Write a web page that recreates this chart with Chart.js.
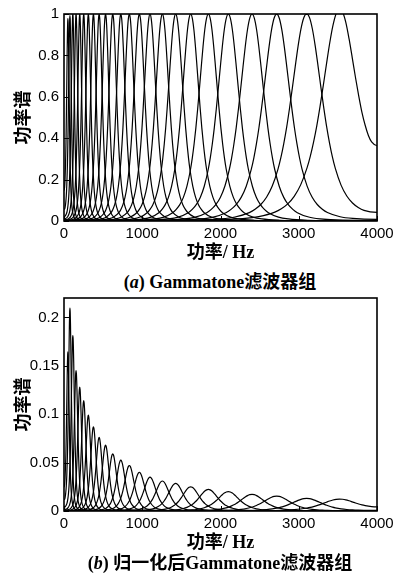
<!DOCTYPE html>
<html>
<head>
<meta charset="utf-8">
<script src="https://cdn.jsdelivr.net/npm/chart.js@4.4.1/dist/chart.umd.min.js"></script>
<style>
body { margin: 0; background: #fff; width: 402px; height: 575px; position: relative; overflow: hidden; }
canvas { position: absolute; left: 0; }
.cap { position: absolute; left: 38px; width: 364px; text-align: center; color: #000; line-height: 20px;
       font: bold 18px "Liberation Serif", "Noto Sans CJK SC", serif; }
</style>
</head>
<body>
<canvas id="chartA" width="402" height="266" style="top:0"></canvas>
<div class="cap" style="top:267px">(<i>a</i>) Gammatone滤波器组</div>
<canvas id="chartB" width="402" height="272" style="top:284px"></canvas>
<div class="cap" style="top:548px">(<i>b</i>) 归一化后Gammatone滤波器组</div>
<script>
//filter centre frequencies (Hz), read from the peak positions
var centerFreqs = [50, 76, 113, 154, 201, 252, 311, 376, 449, 531, 623, 726, 835, 963,
                   1099, 1257, 1427, 1619, 1845, 2100, 2403, 2718, 3101, 3519];
//filter bandwidths (Hz)
var bandwidths = [30.7, 33.5, 37.6, 42.1, 47.3, 52.9, 59.4, 66.5, 74.6, 83.6, 93.7, 105.0, 117.0, 131.1,
                  146.1, 163.4, 182.1, 203.2, 228.1, 256.2, 289.5, 324.1, 366.3, 412.2];
//peak heights, panel (a)
var peaksA = [0.97, 0.99, 1, 1, 1, 1, 1, 1, 1, 1, 1, 1, 1, 1, 1, 1, 1, 1, 1, 1, 1, 1, 1, 1];
//peak heights after normalisation, panel (b)
var peaksB = [0.163, 0.209, 0.181, 0.145, 0.128, 0.114, 0.099, 0.087, 0.076, 0.068, 0.059, 0.0525,
              0.047, 0.040, 0.035, 0.031, 0.0285, 0.025, 0.0223, 0.020, 0.0172, 0.0154, 0.013, 0.012];
//response shape: offset from centre (in bandwidths) -> relative gain
var shapeOffsets = [0, 0.1, 0.2, 0.3, 0.4, 0.5, 0.6, 0.7, 0.8, 0.9, 1.0, 1.2, 1.4, 1.6, 1.8, 2.0, 2.5, 3, 4, 6, 10];
var shapeGains   = [1, 0.980, 0.925, 0.842, 0.743, 0.640, 0.541, 0.450, 0.372, 0.305, 0.250, 0.168,
                    0.114, 0.079, 0.056, 0.040, 0.019, 0.010, 0.0035, 0.0007, 0.0001];
var sampleRate = 8000;

var xTicks = [0, 1000, 2000, 3000, 4000];
var yTicksA = [0, 0.2, 0.4, 0.6, 0.8, 1];
var yTicksB = [0, 0.05, 0.1, 0.15, 0.2];

function gainAt(u) {
    u = Math.abs(u);
    for (var k = 1; k < shapeOffsets.length; k++) {
        if (u <= shapeOffsets[k]) {
            var t = (u - shapeOffsets[k - 1]) / (shapeOffsets[k] - shapeOffsets[k - 1]);
            return shapeGains[k - 1] + t * (shapeGains[k] - shapeGains[k - 1]);
        }
    }
    return 0;
}

//one curve per filter, points taken at the table offsets on both sides of the centre
function buildCurve(i, peak) {
    var fc = centerFreqs[i], bw = bandwidths[i], pts = [];
    var offs = shapeOffsets.slice(1).reverse().map(function (u) { return -u; }).concat(shapeOffsets);
    offs.forEach(function (u) {
        var f = fc + u * bw;
        //images folded back at 0 Hz and at the Nyquist frequency
        var g = gainAt(u) + gainAt((f - (sampleRate - fc)) / bw) + gainAt((f + fc) / bw);
        pts.push({ x: f, y: peak * g });
    });
    return pts;
}

function makeDatasets(peaks) {
    return centerFreqs.map(function (fc, i) {
        return {
            data: buildCurve(i, peaks[i]),
            borderColor: "#000",
            borderWidth: 1.2,
            pointRadius: 0,
            fill: false,
            cubicInterpolationMode: "monotone"
        };
    });
}

//box round the plot and inward tick marks
var boxPlugin = {
    id: "box",
    afterDraw: function (chart) {
        var ctx = chart.ctx, a = chart.chartArea;
        var xs = chart.scales.x, ys = chart.scales.y;
        ctx.save();
        ctx.strokeStyle = "#000";
        ctx.lineWidth = 1;
        ys.ticks.forEach(function (t) {
            var y = Math.round(ys.getPixelForValue(t.value)) + 0.5;
            ctx.beginPath(); ctx.moveTo(a.left, y); ctx.lineTo(a.left + 5, y); ctx.stroke();
        });
        xs.ticks.forEach(function (t) {
            var x = Math.round(xs.getPixelForValue(t.value)) + 0.5;
            ctx.beginPath(); ctx.moveTo(x, a.bottom); ctx.lineTo(x, a.bottom - 5); ctx.stroke();
        });
        ctx.lineWidth = 1.6;
        ctx.strokeRect(a.left, a.top, a.right - a.left, a.bottom - a.top);
        ctx.restore();
    }
};

function makeChart(id, peaks, yMax, yTicks, bottomGap) {
    var tickFont = { family: "'Liberation Sans', Arial, sans-serif", size: 15 };
    var titleFont = { family: "'Liberation Serif', 'Noto Sans CJK SC', serif", size: 18, weight: "bold" };
    return new Chart(document.getElementById(id), {
        type: "line",
        data: { datasets: makeDatasets(peaks) },
        options: {
            responsive: false,
            animation: false,
            events: [],
            layout: { padding: { top: 14, right: 25, bottom: 0, left: 0 } },
            plugins: { legend: { display: false }, tooltip: { enabled: false } },
            scales: {
                x: {
                    type: "linear", min: 0, max: 4000,
                    afterBuildTicks: function (s) { s.ticks = xTicks.map(function (v) { return { value: v }; }); },
                    afterFit: function (s) { s.height = bottomGap; },
                    grid: { display: false, drawTicks: false },
                    border: { display: false },
                    ticks: { color: "#000", font: tickFont, padding: 4, maxRotation: 0,
                             callback: function (v) { return String(v); } },
                    title: { display: true, text: "功率/ Hz", color: "#000", font: titleFont,
                             padding: { top: 2, bottom: 2 } }
                },
                y: {
                    type: "linear", min: 0, max: yMax,
                    afterBuildTicks: function (s) { s.ticks = yTicks.map(function (v) { return { value: v }; }); },
                    afterFit: function (s) { s.width = 64; },
                    grid: { display: false, drawTicks: false },
                    border: { display: false },
                    ticks: { color: "#000", font: tickFont, padding: 5,
                             callback: function (v) { return String(v); } },
                    title: { display: true, text: "功率谱", color: "#000",
                             font: { family: "'Noto Sans CJK SC', sans-serif", size: 18, weight: "bold" },
                             padding: { top: 11, bottom: 0 } }
                }
            }
        },
        plugins: [boxPlugin]
    });
}

var chartA = makeChart("chartA", peaksA, 1, yTicksA, 45);
var chartB = makeChart("chartB", peaksB, 0.22, yTicksB, 45);
</script>
</body>
</html>
